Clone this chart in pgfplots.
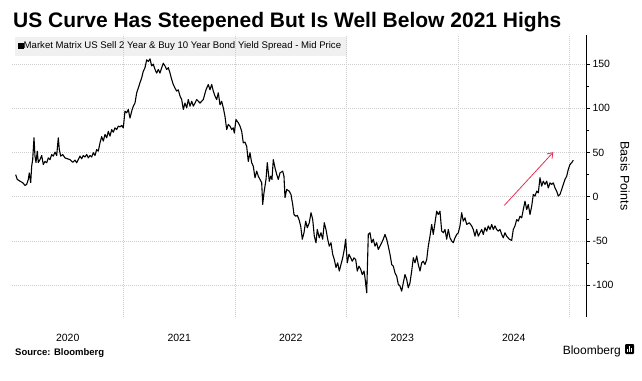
\documentclass[border=0pt]{standalone}
\usepackage{fontspec}
\setmainfont{Liberation Sans}
\usepackage{pgfplots}
\pgfplotsset{compat=1.18}
\usepackage{pgfplotstable}
\usetikzlibrary{arrows.meta}
\definecolor{arrowred}{RGB}{232,44,84}
\definecolor{gridgray}{RGB}{205,205,205}
\pgfplotstableread{
px v
15.7 25
17.3 19.6
20 17.6
22.7 16
25 12.8
26.7 14
28.3 19.6
29.3 27
30.7 16
31.7 34.6
32.7 42
34 66.7
35 46
36 38.7
37.3 51.6
38.3 38.7
40 42
41.7 46.7
43.3 36.5
45 40
46.7 38.5
48.3 44
50 42
51.7 47.8
53.3 46
55 50.5
56.7 46.7
58.3 66.7
59.3 53.5
60.7 46
62.7 47.8
65 44
67.3 43
70 42
72.7 39
75 41.4
76.7 38.5
78.3 42
80 46
81.7 43
83.3 46.7
85 45
86.7 47.8
88.3 44
90 46.7
91.7 45
93.3 49.8
95 46.7
96.7 53.5
98.3 51.6
100 61
101.7 68
103.3 63
105 70.5
106.7 66.7
108.3 74
110 68.6
111.7 76
113.3 73
115 78
116.7 76
118.3 80
120 79
121.7 80.7
123.3 78
125 96.8
126.7 95
128.3 98.8
130 89
131.7 96.8
133.3 102.5
135 106
136.7 117.6
138.3 123
140 129
141.7 134.6
143.3 142
145 146
146.7 155
148.3 153
150 156
151.7 148
153.3 150
155 144
156.7 140
158.3 144
160 140
161.7 146
163.3 151
165 148
166.7 144
168.3 146
170 140
171.7 132.7
173.3 127
175 123
176.7 119.5
178.3 121
180 114
181.7 110
183.3 98.8
185 106
186.7 100.7
188.3 110
190 102.5
191.7 108
193.3 102.5
195 106
196.7 110
200 106
203.3 110
206 121
208.3 127
210 121
211.7 127
213.3 119.5
215 114
216.7 110
218.3 117.6
220 104
221.7 108
223.3 100.7
225 91
226.7 76
228.3 81.8
230 80
231.7 76
233.3 78
234.3 72
236 87.4
238.3 83.7
240 80
241.7 74
243.3 61
245 61.8
246.7 57
248.3 40
250 49.8
251.7 38.5
253.3 34.6
255 21.5
256.7 29
258.3 23.3
260 19.6
261.7 15.8
262.7 -8.7
264 4.5
266 19.6
267.3 38.5
269.3 17.6
270.7 23.3
272 19.6
273.3 42
275 32.8
276.7 25.2
278.3 19.6
280 27
282.7 29
284 23
285 -1
286.7 8.3
289.3 6.3
291 2.6
292.7 -8.7
294 -20
295.7 -22
297.3 -21
299 -25.7
300.7 -33
302.3 -48
304 -40.7
305.7 -27.6
307.3 -35
309.3 -29.4
311 -18
312.7 -25.7
314.3 -44.6
316 -52
317.3 -37
319.3 -46.4
321 -40.7
322.7 -48
324.3 -29.4
326 -37
327.7 -48
329.3 -55.9
331 -52
332.7 -65
334.3 -71
336 -80
337.7 -74.7
339.3 -84
341 -76.6
342.7 -69
344.3 -59.6
345.7 -48
347.3 -74.7
349 -65
350.7 -69
352.3 -72.9
354 -69
355.7 -71
357.3 -84
359 -78.5
360.7 -82
362.3 -88
364 -84
365 -91.6
366.7 -108.6
368.3 -42.6
370 -40.7
371.7 -52
373.3 -48
375 -55.9
376.7 -52
378.3 -59.6
380 -55.9
381.7 -52
383.3 -48
385 -42.6
386.7 -48
388.3 -55.9
390 -65
391.7 -76.6
393.3 -78.5
395 -86
396.7 -89.8
398.3 -99
400 -101
401.7 -106.8
403.3 -97.3
405 -88
406.7 -93.5
408.3 -103
410 -97.3
411.7 -84
413.3 -69
415 -74.7
416.7 -67
418.3 -76.6
420 -84
421.7 -74.7
423.3 -72.9
425 -76.6
426.7 -71
428.3 -55.9
430 -44.6
431.7 -31.3
433.3 -42.6
435 -29.4
436.7 -16.3
438.3 -20
440 -16.3
441.7 -38.9
443.3 -40.7
445 -37
446.7 -48
448.3 -37
450 -46.4
451.7 -50
453.3 -52
455 -46.4
456.7 -42.6
458.3 -40.7
460 -33
461.7 -18
463.3 -27.6
465 -23.8
466.7 -31.3
469.3 -29.4
471.7 -33
473.3 -37
475 -44.6
476.7 -37
478.3 -44.6
480 -40.7
481.7 -37
483.3 -42.6
485 -35
486.7 -38.9
488.3 -33
490 -37
491.7 -31.3
493.3 -37
495 -33
496.7 -37
498.3 -38.9
500 -37
501.7 -42.6
503.3 -46.4
505 -40.7
506.7 -44.6
509.3 -48
511.7 -49.4
513.3 -37
515 -33
516.7 -25.7
518.3 -27.6
520 -22
521.7 -23.8
523.3 -14.4
525 -5
526.7 -14.4
528.3 -8.7
530 -20
531.7 -10.6
533.3 2.6
535 0.7
536.7 6.3
538.3 4.5
540 21.5
541.7 12
543.3 17.6
545 14
546.7 17.6
548.3 10
550 15.8
551.7 14
553.3 15.8
555 10
556.7 6.3
558.3 0.7
560 2.6
561.7 8.3
563.3 14
565 19.6
566.7 23.3
568.3 31
570 36.5
571.7 38.5
573.3 41.4
}\spread

\begin{document}
\begin{tikzpicture}
\useasboundingbox (0pt,0pt) rectangle (642pt,380pt);
\node[anchor=base west, inner sep=0, font=\fontsize{21}{24}\selectfont\bfseries] at (13pt,352pt) {US Curve Has Steepened But Is Well Below 2021 Highs};
\fill[black!6] (15pt,324pt) rectangle (347pt,343pt);
\begin{axis}[
  at={(12pt,63pt)}, anchor=south west,
  scale only axis, width=574pt, height=282pt,
  xmin=2020, xmax=2025.148,
  ymin=-136, ymax=183,
  axis y line*=right, axis x line*=bottom,
  x axis line style={draw=none},
  y axis line style={black, line width=0.6pt},
  xtick={2020.5,2021.5,2022.5,2023.5,2024.5},
  xticklabels={2020,2021,2022,2023,2024},
  x tick style={draw=none},
  extra x ticks={2021,2022,2023,2024,2025},
  extra x tick labels={},
  extra x tick style={grid=major, major tick length=0pt},
  ytick={-100,-50,0,50,100,150},
  minor y tick num=1,
  ymajorgrids,
  grid style={gridgray, line width=0.6pt, dash pattern=on 1pt off 1pt},
  tick align=outside,
  y tick style={black, line width=0.6pt},
  major tick length=4pt, minor tick length=3pt,
  xticklabel style={font=\fontsize{10.5}{12}\selectfont, yshift=-10pt},
  yticklabel style={font=\fontsize{10.5}{12}\selectfont, xshift=-1pt},
  /pgf/number format/assume math mode=true,
  clip=false,
]
\addplot[black, line width=1.1pt, line join=round] table[x expr={2020+(\thisrowno{0}-12)/111.5}, y index=1] {\spread};
\addplot[arrowred, line width=0.8pt, -{Straight Barb[length=5pt, width=7pt]}] coordinates {(2024.415,-9.8) (2024.855,50.5)};
\end{axis}
\node[anchor=west, inner sep=0, font=\fontsize{9.6}{11}\selectfont] at (18pt,333.5pt) {\rule{5.5pt}{5.5pt}Market Matrix US Sell 2 Year \& Buy 10 Year Bond Yield Spread - Mid Price};
\node[rotate=-90, inner sep=0, font=\fontsize{12.5}{14}\selectfont] at (625pt,204pt) {Basis Points};
\node[anchor=base west, inner sep=0, font=\fontsize{9.5}{11}\selectfont\bfseries] at (15pt,25pt) {Source: Bloomberg};
\node[anchor=base east, inner sep=0, font=\fontsize{12}{14}\selectfont] at (621pt,26pt) {Bloomberg};
\fill[black, rounded corners=1pt] (625pt,26pt) rectangle (634pt,36pt);
\fill[white] (627pt,28pt) rectangle (628pt,31pt);
\fill[white] (629pt,28pt) rectangle (630pt,34pt);
\fill[white] (631pt,28pt) rectangle (632pt,32pt);
\end{tikzpicture}
\end{document}
